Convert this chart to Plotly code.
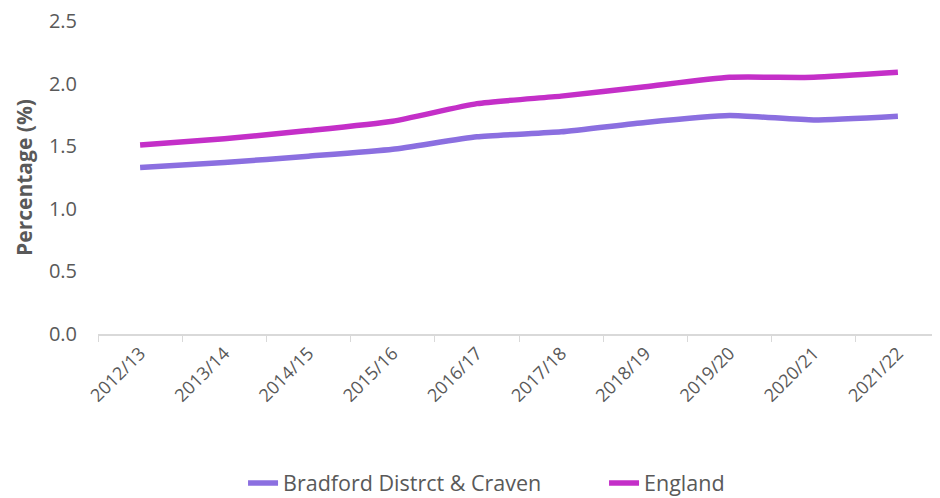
import plotly.graph_objects as go

years = ["2012/13", "2013/14", "2014/15", "2015/16", "2016/17",
         "2017/18", "2018/19", "2019/20", "2020/21", "2021/22"]
bradford = [1.33, 1.37, 1.42, 1.475, 1.575, 1.615, 1.69, 1.745, 1.71, 1.74]
england = [1.51, 1.56, 1.625, 1.70, 1.84, 1.90, 1.975, 2.05, 2.05, 2.09]

fig = go.Figure()
fig.add_trace(go.Scatter(x=years, y=bradford, mode="lines",
                         name="Bradford Distrct & Craven",
                         line=dict(color="#8B6FE0", width=5.5, shape="spline", smoothing=0.5)))
fig.add_trace(go.Scatter(x=years, y=england, mode="lines",
                         name="England",
                         line=dict(color="#C42FC8", width=5.5, shape="spline", smoothing=0.5)))

font_family = "Open Sans, Noto Sans, sans-serif"
# page body has an 8px default margin, so the figure is 932x490
fig.update_layout(
    width=932, height=490,
    margin=dict(l=90, r=0, t=13, b=164, autoexpand=False),
    plot_bgcolor="white", paper_bgcolor="white",
    font=dict(family=font_family, color="#595959", size=18),
    showlegend=True,
    legend=dict(orientation="h", x=0.601, xanchor="center", y=-0.476, yanchor="middle",
                font=dict(size=21.5, color="#595959"), traceorder="normal",
                entrywidth=316, entrywidthmode="pixels"),
    xaxis=dict(type="category", showgrid=False, showline=True, linecolor="#D9D9D9", linewidth=1.5,
               ticks="outside", tickson="boundaries", ticklen=6, tickcolor="#D9D9D9",
               tickangle=-45, tickfont=dict(size=18, color="#595959"),
               range=[-0.5, 9.5], automargin=False),
    yaxis=dict(range=[0, 2.5], dtick=0.5, tickformat=".1f", showgrid=False, showline=False,
               zeroline=False, ticks="", ticklabelstandoff=20, ticklabeloverflow="allow",
               tickfont=dict(size=20, color="#595959"), automargin=False,
               title=dict(text="<b>Percentage (%)</b>", font=dict(size=21, color="#595959"), standoff=10)),
)

fig.write_html("out.html")
